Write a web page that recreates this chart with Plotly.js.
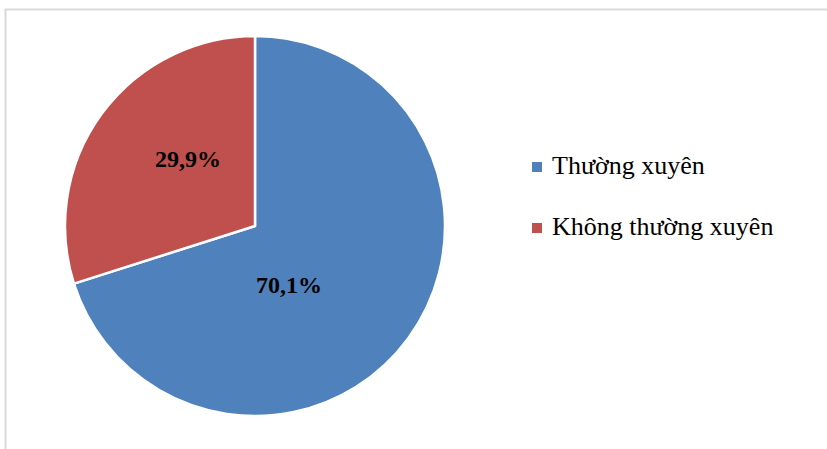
<!DOCTYPE html>
<html>
<head>
<meta charset="utf-8">
<script src="https://cdn.plot.ly/plotly-3.0.1.min.js"></script>
<style>html,body{margin:0;padding:0;background:#fff;}#chart{width:827px;height:449px;}</style>
</head>
<body>
<div id="chart"></div>
<script>
const categories = ["Thường xuyên", "Không thường xuyên"];
const values = [70.1, 29.9];
const valueLabels = ["70,1%", "29,9%"];
const colors = ["#4F81BD", "#C0504D"];

const W = 827, H = 449;
const cx = 255, cy = 226, r = 190;
const px = v => v / W, py = v => 1 - v / H;

// label positions (pixel centers) for each slice
const labelPos = [[289, 285], [188, 159]];

const annotations = [];
const shapes = [];
labelPos.forEach((p, i) => {
  annotations.push({
    xref: 'paper', yref: 'paper', x: px(p[0]), y: py(p[1]),
    xanchor: 'center', yanchor: 'middle', showarrow: false,
    text: '<b>' + valueLabels[i] + '</b>',
    font: {family: 'Liberation Serif, serif', size: 24, color: '#000'}
  });
});
const legendY = [167, 228];
categories.forEach((c, i) => {
  shapes.push({type: 'rect', xref: 'paper', yref: 'paper',
    x0: px(532), x1: px(542), y0: py(legendY[i] + 5), y1: py(legendY[i] - 5),
    fillcolor: colors[i], line: {width: 0}});
  annotations.push({
    xref: 'paper', yref: 'paper', x: px(550), y: py(legendY[i] - 1.5),
    xanchor: 'left', yanchor: 'middle', showarrow: false,
    text: c, font: {family: 'Liberation Serif, serif', size: 26, color: '#000'}
  });
});
// chart frame
shapes.push({type: 'rect', xref: 'paper', yref: 'paper',
  x0: px(5.5), x1: px(W + 20), y0: py(H + 20), y1: py(9.5),
  line: {color: '#d9d9d9', width: 2}, fillcolor: 'rgba(0,0,0,0)', layer: 'below'});

const trace = {
  type: 'pie',
  labels: categories,
  values: values,
  sort: false,
  direction: 'clockwise',
  rotation: 0,
  marker: {colors: colors, line: {color: '#fff', width: 2.5}},
  textinfo: 'none',
  hoverinfo: 'none',
  showlegend: false,
  domain: {x: [px(cx - r), px(cx + r)], y: [py(cy + r), py(cy - r)]}
};

const layout = {
  width: W, height: H,
  margin: {l: 0, r: 0, t: 0, b: 0},
  paper_bgcolor: '#fff',
  showlegend: false,
  annotations: annotations,
  shapes: shapes
};

Plotly.newPlot('chart', [trace], layout, {displayModeBar: false, staticPlot: true});
</script>
</body>
</html>
